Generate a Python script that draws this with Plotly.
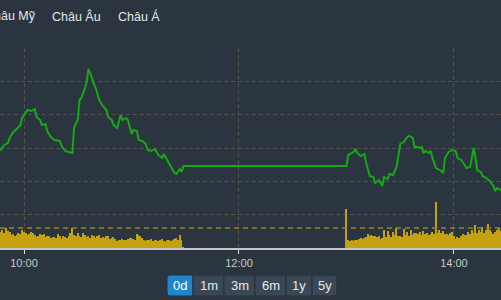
import pandas as pd
import plotly.graph_objects as go

DAY = "2024-01-15 "
W, H = 501, 300

# ---- price (index) series ----
price_times = ["09:45","09:47","09:49","09:51","09:52","09:54","09:56","09:58","09:59","10:02",
               "10:04","10:06","10:07","10:09","10:10","10:12","10:13","10:15","10:17","10:20",
               "10:21","10:23","10:25","10:27","10:28","10:30","10:31","10:32","10:34","10:35",
               "10:36","10:37","10:39","10:40","10:42","10:44","10:46","10:47","10:49","10:50",
               "10:52","10:54","10:55","10:57","10:58","11:00","11:01","11:03","11:04","11:06",
               "11:08","11:09","11:11","11:13","11:15","11:17","11:18","11:20","11:22","11:24",
               "11:25","11:27","11:28","11:29","11:30",
               "13:00","13:01","13:02","13:04","13:05","13:06","13:08","13:10","13:11","13:13",
               "13:15","13:16","13:18","13:20","13:21","13:23","13:24","13:26","13:28","13:29",
               "13:30","13:32","13:34","13:35","13:37","13:38","13:40","13:41","13:42","13:43",
               "13:44","13:46","13:47","13:48","13:50","13:53","13:54","13:55","13:57","13:59",
               "14:01","14:02","14:04","14:06","14:07","14:09","14:11","14:12","14:13","14:15",
               "14:16","14:18","14:20","14:22","14:23","14:24","14:26","14:27"]
price_values = [1185.76,1185.88,1186.18,1186.30,1186.60,1186.96,1187.14,1187.38,1187.80,1188.28,
                1188.22,1188.34,1187.86,1187.68,1187.38,1187.44,1187.02,1186.66,1186.48,1186.42,
                1186.12,1185.82,1185.76,1185.70,1187.26,1187.68,1188.88,1189.00,1189.60,1189.96,
                1190.74,1190.50,1189.84,1189.60,1188.88,1188.52,1188.28,1187.86,1187.68,1187.38,
                1187.20,1187.98,1187.68,1187.80,1187.68,1186.84,1187.08,1187.02,1186.48,1186.42,
                1186.24,1185.88,1185.82,1185.94,1185.58,1185.40,1185.64,1185.28,1184.86,1184.50,
                1184.44,1184.74,1184.56,1184.92,1184.92,
                1184.92,1185.58,1185.64,1185.76,1185.94,1185.70,1185.52,1185.64,1185.10,1184.32,
                1184.26,1183.90,1184.08,1183.72,1184.26,1184.14,1184.44,1184.38,1184.86,1185.70,
                1186.24,1186.36,1186.66,1186.72,1186.60,1186.06,1186.06,1186.00,1186.06,1185.70,
                1185.82,1185.70,1185.82,1185.40,1184.80,1184.62,1184.50,1185.40,1185.76,1185.88,
                1185.82,1185.40,1185.28,1184.98,1184.80,1184.86,1186.00,1185.40,1184.68,1184.56,
                1184.32,1184.20,1184.02,1183.72,1183.42,1183.60,1183.48,1183.54]

# ---- volume per minute (thousand shares) ----
vol_am_start = "09:46"
vol_am = [170,160,180,150,200,170,160,130,140,120,
          130,150,140,180,160,150,130,140,160,150,
          130,110,120,140,130,140,110,120,120,100,
          110,110,100,140,120,90,120,110,100,120,
          150,200,130,120,150,120,110,150,130,110,
          120,100,130,120,100,120,130,100,110,100,
          120,120,90,100,110,90,70,80,80,90,
          80,80,90,100,100,90,80,140,130,120,
          100,80,70,80,80,90,70,80,80,70,
          80,90,70,60,80,80,70,80,90,100,
          80,130,80,10]
vol_pm_start = "13:00"
vol_pm = [390,80,70,80,70,80,80,90,100,90,
          100,110,140,120,130,120,120,110,120,90,
          100,180,110,170,130,110,160,130,200,120,
          120,110,190,130,160,120,180,130,150,150,
          140,160,130,170,140,150,130,140,160,140,
          460,150,180,150,170,140,140,130,150,160,
          120,90,110,100,120,140,130,130,160,140,
          180,150,230,150,180,160,210,150,180,240,
          180,160,140,160,180,200,170,150]
vol_ref = 200

x_ticks = ["10:00", "12:00", "14:00"]
view_range = ["09:46:36", "14:26:15"]
region_tabs = ["Châu Mỹ", "Châu Âu", "Châu Á"]
range_buttons = ["0d", "1m", "3m", "6m", "1y", "5y"]

BG = "#2a3540"
FONT = "Liberation Sans, Arial, sans-serif"

def px(x):
    return x / W

def py(y):
    return 1 - y / H

vol_times = (list(pd.date_range(DAY + vol_am_start, periods=len(vol_am), freq="1min")) +
             list(pd.date_range(DAY + vol_pm_start, periods=len(vol_pm), freq="1min")))
vol_values = vol_am + vol_pm

fig = go.Figure()
fig.add_trace(go.Bar(x=vol_times, y=vol_values, yaxis="y2", width=45000,
                     marker=dict(color="#c4a10e", line=dict(width=0)),
                     hoverinfo="skip", showlegend=False))
fig.add_trace(go.Scatter(x=[DAY + t for t in price_times], y=price_values, mode="lines",
                         line=dict(color="#16a816", width=2), showlegend=False))

dom = [py(248), py(48)]
fig.update_layout(
    width=W, height=H, template="none",
    margin=dict(l=0, r=0, t=0, b=0, pad=0),
    paper_bgcolor=BG, plot_bgcolor=BG,
    font=dict(family=FONT, color="#d0d0d0", size=11),
    bargap=0,
    xaxis=dict(type="date", range=[DAY + view_range[0], DAY + view_range[1]],
               domain=[0, 1], automargin=False,
               tickvals=[DAY + t for t in x_ticks], ticktext=x_ticks,
               showgrid=True, gridcolor="#565049", griddash="4px,3px", gridwidth=1,
               showline=True, linecolor="#c8c8c8", linewidth=2,
               ticks="outside", ticklen=4, tickcolor="#e0e0e0", tickwidth=1,
               tickfont=dict(size=11, color="#c8c8c8"), zeroline=False),
    yaxis=dict(domain=dom, range=[1180, 1192], dtick=2, tick0=1180,
               showticklabels=False, automargin=False,
               showgrid=True, gridcolor="#565049", griddash="4px,3px", gridwidth=1,
               zeroline=False, showline=False, ticks=""),
    yaxis2=dict(domain=dom, range=[0, 2000], overlaying="y", showgrid=False,
                showticklabels=False, zeroline=False, showline=False, ticks="",
                automargin=False),
)

shapes = [dict(type="line", xref="paper", x0=0, x1=1, yref="y2", y0=vol_ref, y1=vol_ref,
               line=dict(color="#9a8420", width=1.5, dash="5px,4px"))]
annotations = []

# region tabs (left one is partly cut off by the page edge, as in the source)
tab_left = [-17, 50, 116]
for name, xl in zip(region_tabs, tab_left):
    annotations.append(dict(text=name, xref="paper", yref="paper", x=px(xl), y=py(16),
                            xanchor="left", yanchor="middle", showarrow=False,
                            font=dict(family=FONT, size=12.5, color="#e6e6e6")))

# range selector buttons
edges = [167, 193, 224, 255, 286, 312, 337]
top, bot, r = 275, 296, 3
rx, ry = r / W, r / H
for i, lab in enumerate(range_buttons):
    active = i == 0
    x0, x1, y0, y1 = px(edges[i]), px(edges[i + 1]), py(bot), py(top)
    if i == 0:
        path = (f"M {x1},{y0} L {x0+rx},{y0} Q {x0},{y0} {x0},{y0+ry} L {x0},{y1-ry} "
                f"Q {x0},{y1} {x0+rx},{y1} L {x1},{y1} Z")
    elif i == len(range_buttons) - 1:
        path = (f"M {x0},{y0} L {x1-rx},{y0} Q {x1},{y0} {x1},{y0+ry} L {x1},{y1-ry} "
                f"Q {x1},{y1} {x1-rx},{y1} L {x0},{y1} Z")
    else:
        path = f"M {x0},{y0} L {x1},{y0} L {x1},{y1} L {x0},{y1} Z"
    shapes.append(dict(type="path", xref="paper", yref="paper", path=path,
                       fillcolor="#1f86cc" if active else "#3a4856",
                       line=dict(color="#25303a", width=1), layer="above"))
    annotations.append(dict(text=lab, xref="paper", yref="paper",
                            x=px((edges[i] + edges[i + 1]) / 2), y=py(285.5),
                            xanchor="center", yanchor="middle", showarrow=False,
                            font=dict(family=FONT, size=13, color="#ffffff" if active else "#e8e8e8")))

fig.update_layout(shapes=shapes, annotations=annotations)
fig.write_html("out.html")
